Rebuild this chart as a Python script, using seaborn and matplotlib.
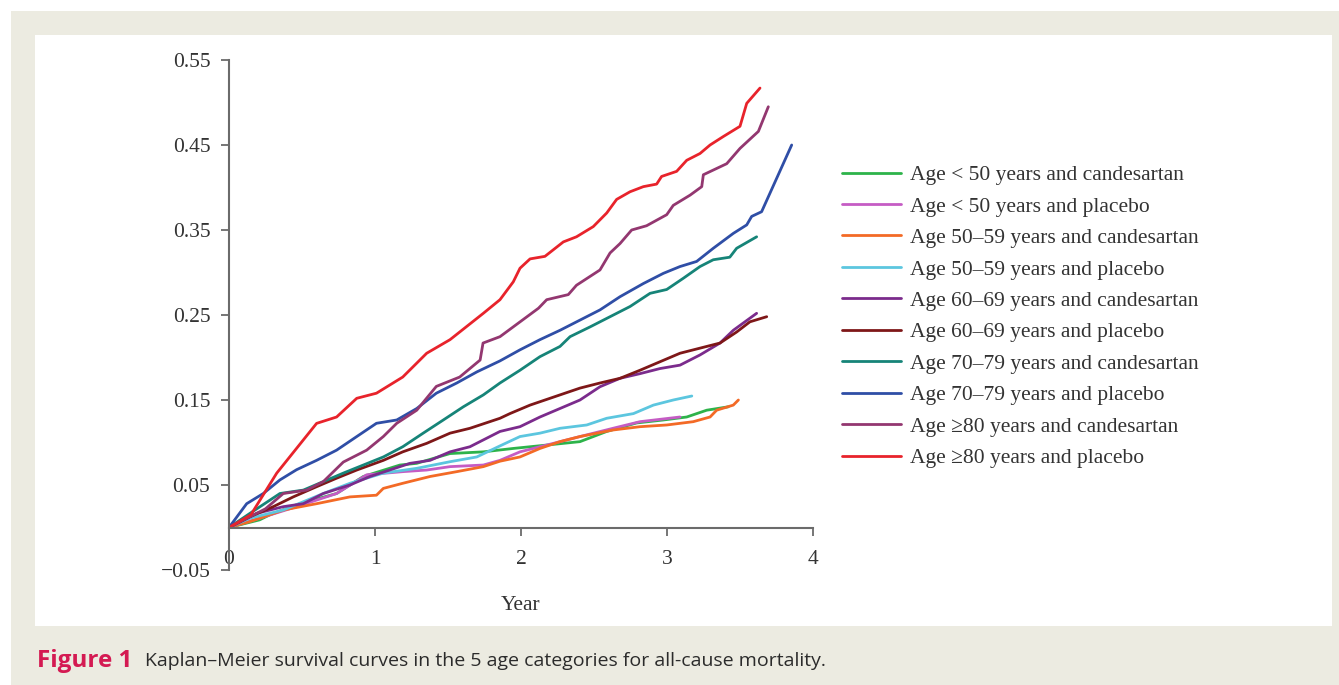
import numpy as np
import pandas as pd
import matplotlib
matplotlib.use("Agg")
import matplotlib.pyplot as plt
import seaborn as sns
from matplotlib.patches import Rectangle

# ---------------- data ----------------
labels = [
    "Age < 50 years and candesartan",
    "Age < 50 years and placebo",
    "Age 50\u201359 years and candesartan",
    "Age 50\u201359 years and placebo",
    "Age 60\u201369 years and candesartan",
    "Age 60\u201369 years and placebo",
    "Age 70\u201379 years and candesartan",
    "Age 70\u201379 years and placebo",
    "Age \u226580 years and candesartan",
    "Age \u226580 years and placebo",
]
colors = ["#2db34a", "#c55cc4", "#f36a26", "#5cc6df", "#7b2b8c",
          "#7e1718", "#168478", "#2f4ea6", "#933770", "#e8232b"]

lt50_cand_x = [0, 0.21, 0.281, 0.486, 0.737, 0.92, 1.171, 1.286, 1.514, 1.742, 1.947, 2.176, 2.404, 2.587, 2.792, 2.975, 3.135, 3.272, 3.42]
lt50_cand_y = [0, 0.009, 0.015, 0.028, 0.040, 0.060, 0.0735, 0.0755, 0.087, 0.089, 0.093, 0.097, 0.101, 0.113, 0.123, 0.1265, 0.130, 0.138, 0.142]

lt50_plac_x = [0, 0.21, 0.463, 0.737, 0.943, 1.19, 1.354, 1.514, 1.742, 1.856, 1.993, 2.176, 2.404, 2.63, 2.815, 3.089]
lt50_plac_y = [0, 0.011, 0.0245, 0.040, 0.062, 0.0657, 0.0676, 0.0716, 0.0735, 0.079, 0.089, 0.097, 0.107, 0.1167, 0.1245, 0.130]

a50_cand_x = [0, 0.144, 0.372, 0.60, 0.828, 1.01, 1.057, 1.19, 1.377, 1.56, 1.742, 1.856, 1.993, 2.13, 2.267, 2.404, 2.63, 2.815, 2.998, 3.18, 3.295, 3.34, 3.454, 3.489]
a50_cand_y = [0, 0.007, 0.0206, 0.028, 0.036, 0.038, 0.046, 0.052, 0.060, 0.0657, 0.0716, 0.078, 0.083, 0.093, 0.101, 0.107, 0.1147, 0.1186, 0.1206, 0.1245, 0.130, 0.138, 0.144, 0.150]

a50_plac_x = [0, 0.144, 0.372, 0.646, 0.828, 1.057, 1.286, 1.514, 1.697, 1.856, 1.993, 2.13, 2.267, 2.45, 2.587, 2.77, 2.907, 3.043, 3.17]
a50_plac_y = [0, 0.011, 0.0206, 0.040, 0.052, 0.064, 0.0696, 0.0774, 0.083, 0.096, 0.107, 0.111, 0.1167, 0.1206, 0.1285, 0.134, 0.144, 0.150, 0.1547]

a60_cand_x = [0, 0.19, 0.372, 0.509, 0.646, 0.828, 0.966, 1.10, 1.24, 1.377, 1.514, 1.65, 1.856, 1.993, 2.13, 2.267, 2.404, 2.541, 2.678, 2.815, 2.952, 3.089, 3.226, 3.363, 3.454, 3.614]
a60_cand_y = [0, 0.0167, 0.0245, 0.028, 0.040, 0.050, 0.060, 0.0676, 0.0755, 0.079, 0.089, 0.095, 0.113, 0.1186, 0.130, 0.140, 0.150, 0.1656, 0.1755, 0.181, 0.187, 0.191, 0.203, 0.217, 0.232, 0.252]

a60_plac_x = [0, 0.144, 0.303, 0.44, 0.60, 0.737, 0.875, 1.057, 1.19, 1.354, 1.514, 1.65, 1.856, 1.924, 2.062, 2.267, 2.404, 2.541, 2.678, 2.815, 2.952, 3.089, 3.226, 3.363, 3.477, 3.568, 3.683]
a60_plac_y = [0, 0.0127, 0.0245, 0.036, 0.048, 0.058, 0.0676, 0.079, 0.089, 0.099, 0.111, 0.1167, 0.1285, 0.134, 0.144, 0.156, 0.164, 0.170, 0.1755, 0.185, 0.195, 0.205, 0.211, 0.217, 0.230, 0.242, 0.248]

a70_cand_x = [0, 0.144, 0.349, 0.509, 0.646, 0.783, 0.92, 1.057, 1.19, 1.33, 1.468, 1.605, 1.742, 1.856, 1.993, 2.13, 2.267, 2.336, 2.473, 2.61, 2.747, 2.884, 2.998, 3.11, 3.226, 3.317, 3.43, 3.477, 3.614]
a70_cand_y = [0, 0.0167, 0.040, 0.044, 0.054, 0.064, 0.0735, 0.083, 0.095, 0.111, 0.1265, 0.142, 0.156, 0.170, 0.185, 0.201, 0.213, 0.2245, 0.236, 0.248, 0.260, 0.2755, 0.280, 0.293, 0.307, 0.315, 0.318, 0.3285, 0.342]

a70_plac_x = [0, 0.121, 0.235, 0.349, 0.463, 0.60, 0.737, 0.875, 1.01, 1.149, 1.286, 1.42, 1.56, 1.697, 1.856, 1.993, 2.13, 2.267, 2.404, 2.541, 2.678, 2.838, 2.975, 3.089, 3.203, 3.317, 3.454, 3.546, 3.58, 3.648, 3.854]
a70_plac_y = [0, 0.028, 0.040, 0.056, 0.068, 0.079, 0.091, 0.107, 0.1226, 0.1265, 0.140, 0.158, 0.170, 0.183, 0.196, 0.209, 0.221, 0.232, 0.244, 0.256, 0.2715, 0.287, 0.299, 0.307, 0.313, 0.3285, 0.346, 0.356, 0.366, 0.3715, 0.450]

a80_cand_x = [0, 0.25, 0.372, 0.532, 0.646, 0.783, 0.943, 1.057, 1.149, 1.286, 1.42, 1.58, 1.72, 1.74, 1.856, 2.12, 2.176, 2.324, 2.38, 2.541, 2.61, 2.678, 2.758, 2.86, 2.998, 3.043, 3.158, 3.238, 3.249, 3.409, 3.5, 3.626, 3.694]
a80_cand_y = [0, 0.022, 0.040, 0.044, 0.054, 0.077, 0.091, 0.107, 0.1226, 0.138, 0.166, 0.177, 0.197, 0.217, 0.2245, 0.258, 0.268, 0.274, 0.285, 0.303, 0.323, 0.334, 0.350, 0.355, 0.368, 0.379, 0.391, 0.401, 0.415, 0.428, 0.446, 0.466, 0.495]

a80_plac_x = [0, 0.15, 0.327, 0.60, 0.737, 0.875, 1.01, 1.19, 1.354, 1.514, 1.742, 1.856, 1.947, 1.993, 2.062, 2.164, 2.29, 2.38, 2.495, 2.587, 2.655, 2.747, 2.838, 2.929, 2.963, 3.066, 3.135, 3.226, 3.295, 3.386, 3.5, 3.546, 3.637]
a80_plac_y = [0, 0.015, 0.064, 0.1225, 0.130, 0.152, 0.158, 0.177, 0.205, 0.221, 0.252, 0.268, 0.289, 0.305, 0.316, 0.319, 0.336, 0.342, 0.354, 0.370, 0.386, 0.395, 0.401, 0.404, 0.413, 0.419, 0.432, 0.440, 0.450, 0.460, 0.472, 0.499, 0.517]

series_x = [lt50_cand_x, lt50_plac_x, a50_cand_x, a50_plac_x, a60_cand_x,
            a60_plac_x, a70_cand_x, a70_plac_x, a80_cand_x, a80_plac_x]
series_y = [lt50_cand_y, lt50_plac_y, a50_cand_y, a50_plac_y, a60_cand_y,
            a60_plac_y, a70_cand_y, a70_plac_y, a80_cand_y, a80_plac_y]

x_ticks = [0, 1, 2, 3, 4]
y_ticks = [-0.05, 0.05, 0.15, 0.25, 0.35, 0.45, 0.55]
y_tick_labels = ["\u22120.05", "0.05", "0.15", "0.25", "0.35", "0.45", "0.55"]
caption_bold = "Figure 1"
caption_text = "Kaplan\u2013Meier survival curves in the 5 age categories for all-cause mortality."

# ---------------- build long dataframe ----------------
frames = []
for lab, xs, ys in zip(labels, series_x, series_y):
    frames.append(pd.DataFrame({"Year": xs, "Rate": ys, "Group": lab}))
df = pd.concat(frames, ignore_index=True)

sns.set_style("white")
plt.rcParams["font.family"] = ["Liberation Serif", "DejaVu Serif"]

W, H = 1339, 685
fig = plt.figure(figsize=(W / 100, H / 100), dpi=100)
fig.patch.set_facecolor("white")
# beige frame and white panel
fig.patches.append(Rectangle((11 / W, 0), 1 - 11 / W, 1 - 11 / H, transform=fig.transFigure,
                             facecolor="#ecebe1", edgecolor="none", zorder=-10))
fig.patches.append(Rectangle((35 / W, 1 - 626 / H), (1332 - 35) / W, (626 - 35) / H,
                             transform=fig.transFigure, facecolor="white",
                             edgecolor="none", zorder=-9))

ax = fig.add_axes([229 / W, 1 - 570 / H, (813 - 229) / W, (570 - 60) / H])
ax.set_facecolor("none")

palette = dict(zip(labels, colors))
sns.lineplot(data=df, x="Year", y="Rate", hue="Group", hue_order=labels,
             palette=palette, sort=False, estimator=None, linewidth=2.0,
             ax=ax, legend=True)

ax.set_xlim(0, 4)
ax.set_ylim(-0.05, 0.55)
ax.set_xticks(x_ticks)
ax.set_xticklabels([str(t) for t in x_ticks])
ax.set_yticks(y_ticks)
ax.set_yticklabels(y_tick_labels)

for s in ["top", "right"]:
    ax.spines[s].set_visible(False)
ax.spines["bottom"].set_position(("data", 0))
spine_col = "#6b6b6b"
ax.spines["left"].set_color(spine_col)
ax.spines["bottom"].set_color(spine_col)
ax.spines["left"].set_linewidth(1.5)
ax.spines["bottom"].set_linewidth(1.5)
ax.tick_params(axis="both", direction="out", length=5.5, width=1.3, color=spine_col,
               labelsize=15.5, labelcolor="#333333")
ax.tick_params(axis="y", pad=8, left=True)
ax.tick_params(axis="x", pad=11, bottom=True)
ax.set_ylabel("")
ax.set_xlabel("Year", fontsize=15.5, color="#333333")
ax.xaxis.set_label_coords(0.5, -0.05)

# legend
handles, labs = ax.get_legend_handles_labels()
ax.get_legend().remove()
for h in handles:
    h.set_linewidth(2.0)
leg = fig.legend(handles, labs, loc="upper left", bbox_to_anchor=(842 / W, 1 - 165 / H),
                 frameon=False, fontsize=15.5, handlelength=2.74, handletextpad=0.42,
                 labelspacing=0.53, borderaxespad=0, borderpad=0)
for t in leg.get_texts():
    t.set_color("#333333")

# caption
fig.text(37 / W, 1 - 661 / H, caption_bold, fontsize=17.5, fontweight="bold",
         color="#d41a52", family=["Open Sans", "DejaVu Sans"], va="center", ha="left")
fig.text(145 / W, 1 - 661 / H, caption_text, fontsize=14.0, color="#2b2b2b",
         family=["Open Sans", "DejaVu Sans"], va="center", ha="left")

fig.savefig("out.png", dpi=100, facecolor=fig.get_facecolor())
